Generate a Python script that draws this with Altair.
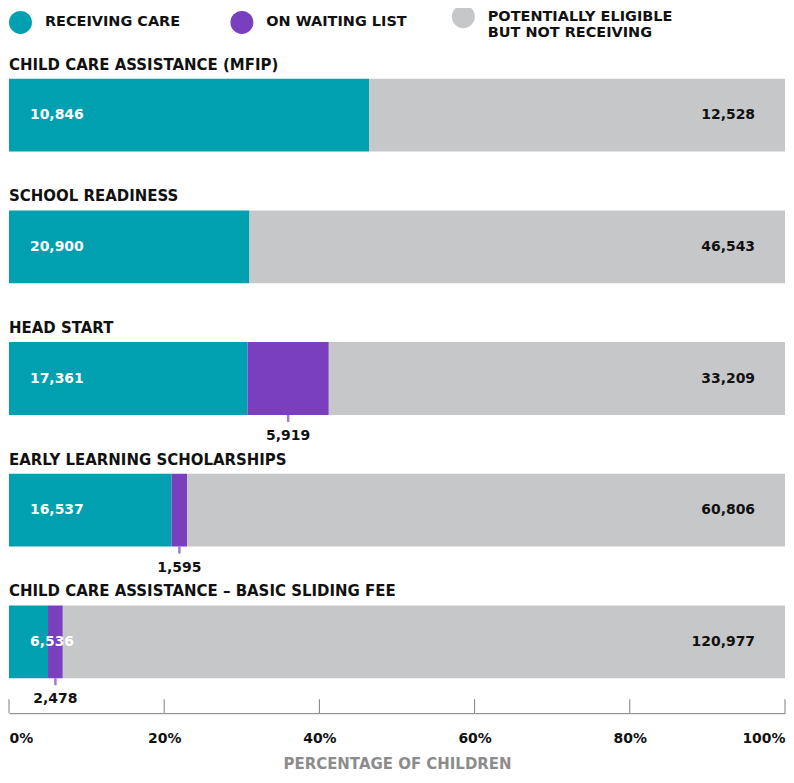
import altair as alt
import pandas as pd

programs = [
    "CHILD CARE ASSISTANCE (MFIP)",
    "SCHOOL READINESS",
    "HEAD START",
    "EARLY LEARNING SCHOLARSHIPS",
    "CHILD CARE ASSISTANCE – BASIC SLIDING FEE",
]
receiving = [10846, 20900, 17361, 16537, 6536]
waiting = [0, 0, 5919, 1595, 2478]
not_receiving = [12528, 46543, 33209, 60806, 120977]
statuses = ["RECEIVING CARE", "ON WAITING LIST", "POTENTIALLY ELIGIBLE|BUT NOT RECEIVING"]
colors = ["#00a0b0", "#7a3fbe", "#c6c7c9"]
tick_values = [0, 0.2, 0.4, 0.6, 0.8, 1.0]

FONT = "DejaVu Sans"
W = 778

rows = []
for i, p in enumerate(programs):
    vals = [receiving[i], waiting[i], not_receiving[i]]
    total = sum(vals)
    start = 0
    for j, s in enumerate(statuses):
        v = vals[j]
        if v == 0:
            continue
        rows.append(dict(program=p, status=s, order=j, value=v,
                         start=start / total, end=(start + v) / total,
                         mid=(start + v / 2) / total, label=f"{v:,}"))
        start += v
df = pd.DataFrame(rows)

xs = alt.Scale(domain=[0, 1], nice=False, zero=False)
ys = alt.Scale(domain=programs, paddingInner=0.447, paddingOuter=0)

base = alt.Chart(df)

bars = base.mark_bar(cornerRadius=0).encode(
    x=alt.X("start:Q", scale=xs, axis=None),
    x2="end:Q",
    y=alt.Y("program:N", scale=ys, axis=None, sort=programs),
    color=alt.Color(
        "status:N",
        scale=alt.Scale(domain=statuses, range=colors),
        legend=alt.Legend(
            title=None, orient="top", direction="horizontal",
            symbolType="circle", symbolSize=529, symbolStrokeWidth=0,
            labelFont=FONT, labelFontSize=14.5, labelFontWeight="bold",
            labelColor="#111111", labelOffset=13, columnPadding=0,
            gridAlign="all",
            labelLimit=400, labelExpr="split(datum.label, '|')",
            labelBaseline="middle", offset=17,
        ),
    ),
)

titles = base.transform_filter(alt.datum.order == 0).mark_text(
    align="left", baseline="alphabetic", dy=-45.5, font=FONT,
    fontSize=15, fontWeight="bold", color="#111111",
).encode(
    x=alt.datum(0, scale=xs),
    y=alt.Y("program:N", scale=ys, sort=programs),
    text="program:N",
)

left_labels = base.transform_filter(alt.datum.order == 0).mark_text(
    align="left", baseline="middle", dx=21, font=FONT,
    fontSize=14, fontWeight="bold", color="white",
).encode(
    x=alt.datum(0, scale=xs),
    y=alt.Y("program:N", scale=ys, sort=programs),
    text="label:N",
)

right_labels = base.transform_filter(alt.datum.order == 2).mark_text(
    align="right", baseline="middle", dx=-30, font=FONT,
    fontSize=14, fontWeight="bold", color="#111111",
).encode(
    x=alt.datum(1, scale=xs),
    y=alt.Y("program:N", scale=ys, sort=programs),
    text="label:N",
)

wait_ticks = base.transform_filter(alt.datum.order == 1).mark_tick(
    orient="vertical", size=7, thickness=2.5, color="#7a3fbe", yOffset=40,
).encode(
    x=alt.X("mid:Q", scale=xs),
    y=alt.Y("program:N", scale=ys, sort=programs),
)

wait_labels = base.transform_filter(alt.datum.order == 1).mark_text(
    align="center", baseline="top", dy=50.5, font=FONT,
    fontSize=14, fontWeight="bold", color="#111111",
).encode(
    x=alt.X("mid:Q", scale=xs),
    y=alt.Y("program:N", scale=ys, sort=programs),
    text="label:N",
)

panel = alt.layer(bars, titles, left_labels, right_labels, wait_ticks, wait_labels).properties(
    width=W, height=601
)

axis_df = pd.DataFrame({"tick": tick_values})
axis_panel = alt.Chart(axis_df).mark_rule(color="#808080", strokeWidth=1).encode(
    x=alt.X(
        "tick:Q", scale=xs,
        axis=alt.Axis(
            values=tick_values, format=".0%", ticks=False, tickSize=0, grid=False,
            domainColor="#808080", domainWidth=1, labelFlush=True,
            labelPadding=18, labelFont=FONT, labelFontSize=14,
            labelFontWeight="bold", labelColor="#111111",
            title="PERCENTAGE OF CHILDREN", titleFont=FONT, titleFontSize=15,
            titleFontWeight="bold", titleColor="#8c8c8c", titlePadding=11,
        ),
    )
).properties(width=W, height=14)

chart = alt.vconcat(panel, axis_panel, spacing=21, bounds="flush").configure(
    font=FONT, padding={"top": -4, "left": 0, "right": 0, "bottom": 0}
).configure_view(stroke=None).resolve_scale(x="shared")

chart.save("out.html", embed_options={"renderer": "svg", "actions": False})
